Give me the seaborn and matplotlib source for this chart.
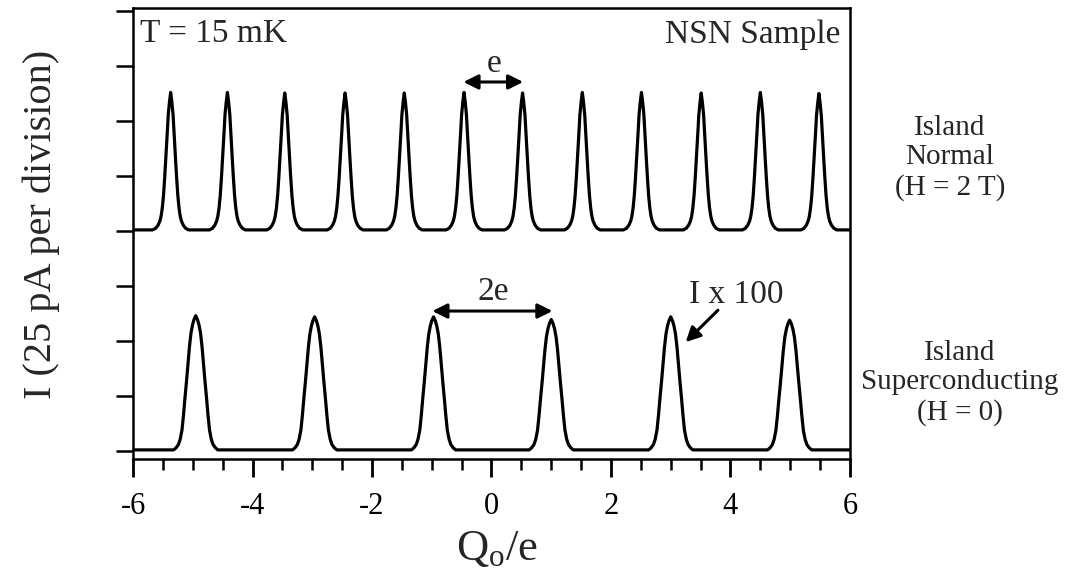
import numpy as np
import pandas as pd
import matplotlib
matplotlib.use("Agg")
import matplotlib.pyplot as plt
import seaborn as sns
from matplotlib.ticker import MultipleLocator

# ---------------- data ----------------
# Island normal (H = 2 T): peaks at half-integer Qo/e
normal_peak_q = [-5.37, -4.42, -3.46, -2.45, -1.46, -0.46, 0.52, 1.52, 2.51, 3.51, 4.50, 5.48]
normal_peak_height = [2.50, 2.50, 2.49, 2.49, 2.49, 2.50, 2.49, 2.50, 2.50, 2.49, 2.50, 2.48]
normal_baseline = 4.02
normal_half_offsets = [0.0, 0.02, 0.04, 0.055, 0.07, 0.085, 0.10, 0.12, 0.14, 0.16, 0.18, 0.21, 0.25, 0.30]
normal_half_fraction = [1.0, 0.93, 0.84, 0.72, 0.61, 0.49, 0.38, 0.25, 0.16, 0.10, 0.065, 0.035, 0.012, 0.0]

# Island superconducting (H = 0), I x 100: peaks at odd Qo/e
sc_peak_q = [-4.95, -2.96, -0.97, 1.00, 3.00, 4.99]
sc_peak_height = [2.44, 2.42, 2.42, 2.37, 2.42, 2.36]
sc_baseline = 0.02
sc_half_offsets = [0.0, 0.03, 0.055, 0.08, 0.105, 0.13, 0.155, 0.18, 0.205, 0.23, 0.26, 0.29, 0.33, 0.37]
sc_half_fraction = [1.0, 0.97, 0.93, 0.87, 0.77, 0.64, 0.51, 0.39, 0.26, 0.15, 0.08, 0.04, 0.015, 0.0]

q_range = [-6, 6]
x_tick_values = [-6, -4, -2, 0, 2, 4, 6]
x_tick_labels = ["-6", "-4", "-2", "0", "2", "4", "6"]
y_divisions = [0, 1, 2, 3, 4, 5, 6, 7, 8]


def build_trace(centers, heights, base, offs, frac):
    offs = np.asarray(offs)
    frac = np.asarray(frac)
    px = np.concatenate([-offs[::-1], offs[1:]])
    py = np.concatenate([frac[::-1], frac[1:]])
    xs = [q_range[0]]
    ys = [base]
    for c, h in zip(centers, heights):
        xs.extend(c + px)
        ys.extend(base + h * py)
    xs.append(q_range[1])
    ys.append(base)
    return pd.DataFrame({"q": xs, "current": ys})


df_normal = build_trace(normal_peak_q, normal_peak_height, normal_baseline,
                        normal_half_offsets, normal_half_fraction)
df_sc = build_trace(sc_peak_q, sc_peak_height, sc_baseline,
                    sc_half_offsets, sc_half_fraction)

# ---------------- style ----------------
sns.set_theme(style="ticks")
plt.rcParams["font.family"] = ["Liberation Serif", "DejaVu Serif"]
plt.rcParams["mathtext.fontset"] = "custom"
plt.rcParams["mathtext.rm"] = "Liberation Serif"
plt.rcParams["mathtext.it"] = "Liberation Serif:italic"

fig = plt.figure(figsize=(10.65, 5.72), dpi=100)
ax = fig.add_axes([0.1249, 0.1976, 0.6732, 0.7884])

sns.lineplot(data=df_normal, x="q", y="current", ax=ax, color="black",
             lw=2.3, sort=False, estimator=None)
sns.lineplot(data=df_sc, x="q", y="current", ax=ax, color="black",
             lw=2.3, sort=False, estimator=None)

ax.set_xlim(q_range)
ax.set_ylim(-0.145, 8.055)
ax.set_xticks(x_tick_values)
ax.set_xticklabels(x_tick_labels)
ax.xaxis.set_minor_locator(MultipleLocator(0.5))
ax.set_yticks(y_divisions)
ax.set_yticklabels([])

for s in ax.spines.values():
    s.set_visible(True)
    s.set_linewidth(1.8)
    s.set_color("black")

ax.tick_params(axis="x", which="major", direction="out", length=13, width=2.0,
               labelsize=22, pad=11, colors="black")
ax.tick_params(axis="x", which="minor", direction="out", length=8, width=1.8,
               colors="black")
ax.tick_params(axis="y", which="major", direction="out", length=12, width=1.8,
               labelleft=False, colors="black")
ax.tick_params(axis="y", which="minor", left=False)

ax.set_xlabel(r"$\mathregular{Q_o/e}$", fontsize=32)
ax.xaxis.set_label_coords(0.508, -0.155)
ax.set_ylabel("I (25 pA per division)", fontsize=29, va="center")
ax.yaxis.set_label_coords(-0.128, 0.52)

# texts inside axes
ax.text(0.010, 0.925, "T = 15 mK", transform=ax.transAxes, fontsize=24,
        ha="left", va="baseline")
ax.text(0.986, 0.923, "NSN Sample", transform=ax.transAxes, fontsize=24,
        ha="right", va="baseline")

arrow_kw = dict(arrowstyle="<|-|>", color="black", lw=2.2, mutation_scale=22,
                shrinkA=0, shrinkB=0)
ax.annotate("", xy=(0.53, 6.71), xytext=(-0.47, 6.71), arrowprops=arrow_kw)
ax.text(0.05, 6.89, "e", fontsize=24, ha="center", va="baseline")

ax.annotate("", xy=(1.02, 2.545), xytext=(-0.99, 2.545), arrowprops=arrow_kw)
ax.text(0.03, 2.745, "2e", fontsize=24, ha="center", va="baseline")

ax.annotate("", xy=(3.25, 1.98), xytext=(3.79, 2.56),
            arrowprops=dict(arrowstyle="-|>", color="black", lw=2.2,
                            mutation_scale=22, shrinkA=0, shrinkB=0))
ax.text(3.30, 2.69, "I x 100", fontsize=24, ha="left", va="baseline")

# side labels
fig.text(950 / 1065, 1 - 158 / 572, "Island\nNormal\n(H = 2 T)", fontsize=21,
         ha="center", va="center", multialignment="center", linespacing=1.17)
fig.text(960 / 1065, 1 - 383 / 572, "Island\nSuperconducting\n(H = 0)", fontsize=21,
         ha="center", va="center", multialignment="center", linespacing=1.17)

fig.savefig("out.png", dpi=100, facecolor="white")
